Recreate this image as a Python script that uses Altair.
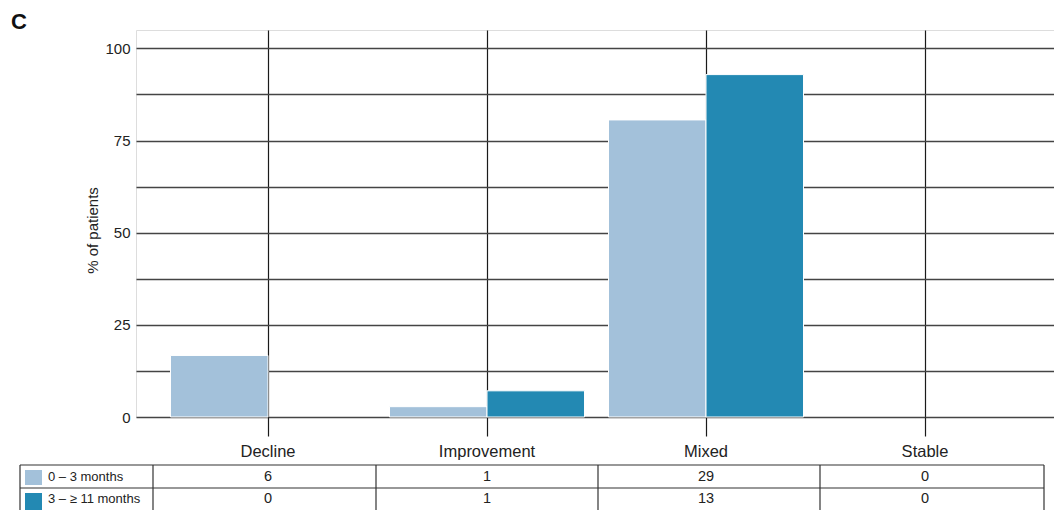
import altair as alt
import pandas as pd

categories = ["Decline", "Improvement", "Mixed", "Stable"]
series = ["0 – 3 months", "3 – ≥ 11 months"]
pct_early = [16.7, 2.8, 80.6, 0.0]
pct_late = [0.0, 7.1, 92.9, 0.0]
count_early = [6, 1, 29, 0]
count_late = [0, 1, 13, 0]
colors = ["#a3c1da", "#2389b3"]
y_grid_values = [0, 12.5, 25, 37.5, 50, 62.5, 75, 87.5, 100]

W, H = 918, 387
FONT = "Liberation Sans"

bars = pd.DataFrame({
    "cat": categories * 2,
    "series": [series[0]] * 4 + [series[1]] * 4,
    "pct": pct_early + pct_late,
})
counts = pd.DataFrame({
    "cat": categories * 2,
    "series": [series[0]] * 4 + [series[1]] * 4,
    "n": count_early + count_late,
    "row": [0] * 4 + [1] * 4,
})

xscale = alt.Scale(domain=categories, paddingInner=0, paddingOuter=0.0959, align=0.536)
color_scale = alt.Scale(domain=series, range=colors)

bar_layer = alt.Chart(bars).transform_filter("datum.pct > 0").mark_bar(
    stroke="white", strokeWidth=1
).encode(
    x=alt.X("cat:N", scale=xscale, sort=categories, title=None,
            axis=alt.Axis(grid=True, gridColor="#1a1a1a", gridWidth=1.2, gridOpacity=1,
                          domain=False, tickSize=19, tickColor="#1a1a1a", tickWidth=1.2,
                          labelAngle=0, labelFontSize=16.5, labelFont=FONT, labelColor="#222",
                          labelPadding=7)),
    xOffset=alt.XOffset("series:N", sort=series,
                        scale=alt.Scale(paddingInner=0, paddingOuter=0.123)),
    y=alt.Y("pct:Q", scale=alt.Scale(domain=[0, 105], nice=False), title="% of patients",
            axis=alt.Axis(values=y_grid_values, grid=True, gridColor="#444", gridWidth=1.3,
                          gridOpacity=1, domain=False, ticks=False,
                          labelExpr="datum.value % 25 == 0 ? datum.label : ''",
                          labelFontSize=15, labelFont=FONT, labelColor="#222", labelPadding=6,
                          titleFont=FONT, titleFontSize=15, titleFontWeight="normal",
                          titleColor="#222", titleX=-44, titleY=200, titleAngle=-90,
                          titleAlign="center", titleBaseline="middle")),
    color=alt.Color("series:N", scale=color_scale, legend=None),
)

# table borders (layout, pixel positions relative to plot area)
hlines = pd.DataFrame({"y": [435, 458], "x1": [-116] * 2, "x2": [908] * 2})
vlines = pd.DataFrame({"x": [-116, 17, 240, 462, 684, 908]})

hline_layer = alt.Chart(hlines).mark_rule(color="#333", strokeWidth=1.2).encode(
    y=alt.Y("y:Q", scale=None), x=alt.X("x1:Q", scale=None), x2="x2:Q"
)
vline_layer = alt.Chart(vlines).mark_rule(color="#333", strokeWidth=1.2).encode(
    x=alt.X("x:Q", scale=None), y=alt.value(435), y2=alt.value(485)
)

text_row0 = alt.Chart(counts).transform_filter("datum.row == 0").mark_text(
    font=FONT, fontSize=14.5, color="#222", baseline="middle"
).encode(x=alt.X("cat:N", scale=xscale, sort=categories), y=alt.value(447), text="n:Q")
text_row1 = alt.Chart(counts).transform_filter("datum.row == 1").mark_text(
    font=FONT, fontSize=14.5, color="#222", baseline="middle"
).encode(x=alt.X("cat:N", scale=xscale, sort=categories), y=alt.value(469), text="n:Q")

legend_df = pd.DataFrame({"series": series, "y1": [440, 463], "y2": [455, 480], "ym": [447, 469]})
swatch = alt.Chart(legend_df).mark_rect().encode(
    x=alt.value(-111), x2=alt.value(-94),
    y=alt.Y("y1:Q", scale=None), y2="y2:Q",
    color=alt.Color("series:N", scale=color_scale, legend=None),
)
legend_text = alt.Chart(legend_df).mark_text(
    font=FONT, fontSize=13, color="#222", align="left", baseline="middle"
).encode(x=alt.value(-88), y=alt.Y("ym:Q", scale=None), text="series:N")

panel_label = alt.Chart(pd.DataFrame({"t": ["C"]})).mark_text(
    font=FONT, fontSize=22, fontWeight="bold", color="#111", align="left", baseline="middle"
).encode(x=alt.value(-125), y=alt.value(-8), text="t:N")

chart = alt.layer(
    bar_layer, hline_layer, vline_layer, text_row0, text_row1, swatch, legend_text, panel_label
).resolve_scale(x="shared").properties(
    width=W, height=H,
    autosize=alt.AutoSizeParams(type="none"),
    padding={"left": 136, "top": 30, "right": 0, "bottom": 93},
).configure_view(stroke=None).configure(background="white")

chart.save("out.html", embed_options={"renderer": "svg", "actions": False})
